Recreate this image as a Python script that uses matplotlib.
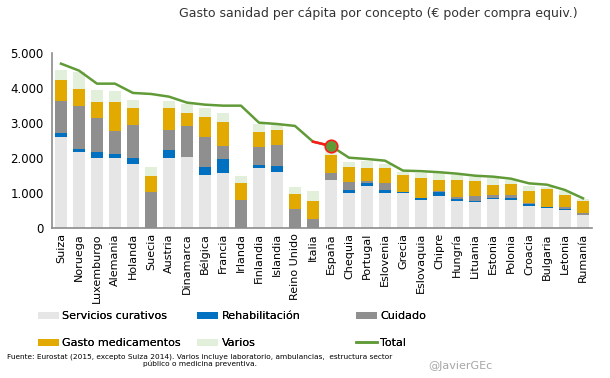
import numpy as np
import matplotlib
matplotlib.use("Agg")
import matplotlib.pyplot as plt
from matplotlib.ticker import FuncFormatter

plt.rcParams['font.family'] = ['DejaVu Sans']

paises = ["Suiza", "Noruega", "Luxemburgo", "Alemania", "Holanda", "Suecia", "Austria",
          "Dinamarca", "Bélgica", "Francia", "Irlanda", "Finlandia", "Islandia",
          "Reino Unido", "Italia", "España", "Chequia", "Portugal", "Eslovenia", "Grecia",
          "Eslovaquia", "Chipre", "Hungría", "Lituania", "Estonia", "Polonia", "Croacia",
          "Bulgaria", "Letonia", "Rumanía"]

curativos = [2593, 2163, 1991, 1991, 1819, 0, 1991, 2011, 1504, 1561, 0, 1705, 1590,
             0, 0, 1361, 989, 1189, 989, 989, 788, 903, 760, 731, 817, 788, 616, 567, 501, 358]
rehabilitacion = [115, 86, 172, 115, 172, 0, 229, 19, 230, 402, 0, 86, 172,
                  0, 0, 0, 86, 86, 86, 37, 57, 120, 57, 29, 28, 57, 57, 29, 29, 0]
cuidado = [917, 1232, 974, 659, 946, 1014, 574, 878, 859, 372, 788, 516, 602,
           530, 244, 200, 229, 57, 200, 0, 0, 25, 57, 143, 86, 86, 29, 0, 57, 57]
medicamentos = [601, 487, 459, 831, 487, 461, 630, 373, 573, 688, 487, 429, 430,
                430, 515, 516, 429, 373, 430, 478, 573, 315, 487, 429, 287, 315, 344, 507, 344, 345]
varios = [287, 488, 344, 315, 229, 258, 201, 258, 258, 258, 201, 229, 143,
          200, 287, 143, 144, 200, 114, 86, 143, 200, 143, 115, 200, 115, 143, 66, 115, 57]
total = [4693, 4494, 4120, 4120, 3854, 3825, 3748, 3577, 3519, 3490, 3490, 3003, 2965,
         2910, 2459, 2335, 2000, 1963, 1915, 1630, 1615, 1585, 1543, 1485, 1457, 1399,
         1266, 1227, 1075, 837]

series = [("Servicios curativos", curativos, "#E6E6E6"),
          ("Rehabilitación", rehabilitacion, "#0070C0"),
          ("Cuidado", cuidado, "#8F8F8F"),
          ("Gasto medicamentos", medicamentos, "#E2A900"),
          ("Varios", varios, "#E2EFDA")]

fig = plt.figure(figsize=(6.1, 3.78), dpi=100)
ax = fig.add_axes([0.0852, 0.398, 0.8853, 0.462])

x = np.arange(len(paises))
bottom = np.zeros(len(paises))
handles = {}
for name, vals, col in series:
    vals = np.array(vals, dtype=float)
    handles[name] = ax.bar(x, vals, 0.67, bottom=bottom, color=col, label=name, zorder=2)
    bottom += vals

green = "#609B38"
line, = ax.plot(x, total, color=green, lw=1.8, zorder=3, label="Total")
i_es = paises.index("España")
ax.plot(x[i_es - 1:i_es + 1], total[i_es - 1:i_es + 1], color="#FF1A1A", lw=1.8, zorder=4)
ax.plot([x[i_es]], [total[i_es]], 'o', ms=9, mfc=green, mec="#FF1A1A", mew=1.2, zorder=5)

ax.set_xlim(-0.5, 29.5)
ax.set_ylim(0, 5000)
ax.set_yticks(range(0, 5001, 1000))
ax.yaxis.set_major_formatter(FuncFormatter(lambda v, p: f"{int(v):,}".replace(",", ".")))
ax.set_xticks(x)
ax.set_xticklabels(paises, rotation=90, fontsize=8)
ax.tick_params(axis='y', labelsize=8.5, length=0, pad=6)
ax.tick_params(axis='x', length=0, pad=4)
for s in ["top", "right"]:
    ax.spines[s].set_visible(False)
for s in ["left", "bottom"]:
    ax.spines[s].set_color("#8C8C8C")
    ax.spines[s].set_linewidth(1.2)

fig.text(0.62, 0.963, "Gasto sanidad per cápita por concepto (€ poder compra equiv.)",
         ha="center", va="center", fontsize=9, color="#333333")

# three legend columns placed separately (uneven spacing in the original)
cols = [(["Servicios curativos", "Gasto medicamentos"], 0.062),
        (["Rehabilitación", "Varios"], 0.323),
        (["Cuidado", "Total"], 0.583)]
for labs, xpos in cols:
    hs = [line if l == "Total" else handles[l] for l in labs]
    leg = fig.legend(hs, labs, loc="upper left", bbox_to_anchor=(xpos, 0.176),
                     ncol=1, frameon=False, fontsize=8, handlelength=1.9, handleheight=0.55,
                     labelspacing=1.5, handletextpad=0.3, borderpad=0, borderaxespad=0)
    fig.add_artist(leg)

fig.text(0.328, 0.047, "Fuente: Eurostat (2015, excepto Suiza 2014). Varios incluye laboratorio, "
         "ambulancias,  estructura sector\npúblico o medicina preventiva.",
         ha="center", va="center", fontsize=5.3, linespacing=1.25)
fig.text(0.755, 0.033, "@JavierGEc", ha="center", va="center", fontsize=8, color="#A6A6A6")

fig.savefig("out.png", dpi=100)
